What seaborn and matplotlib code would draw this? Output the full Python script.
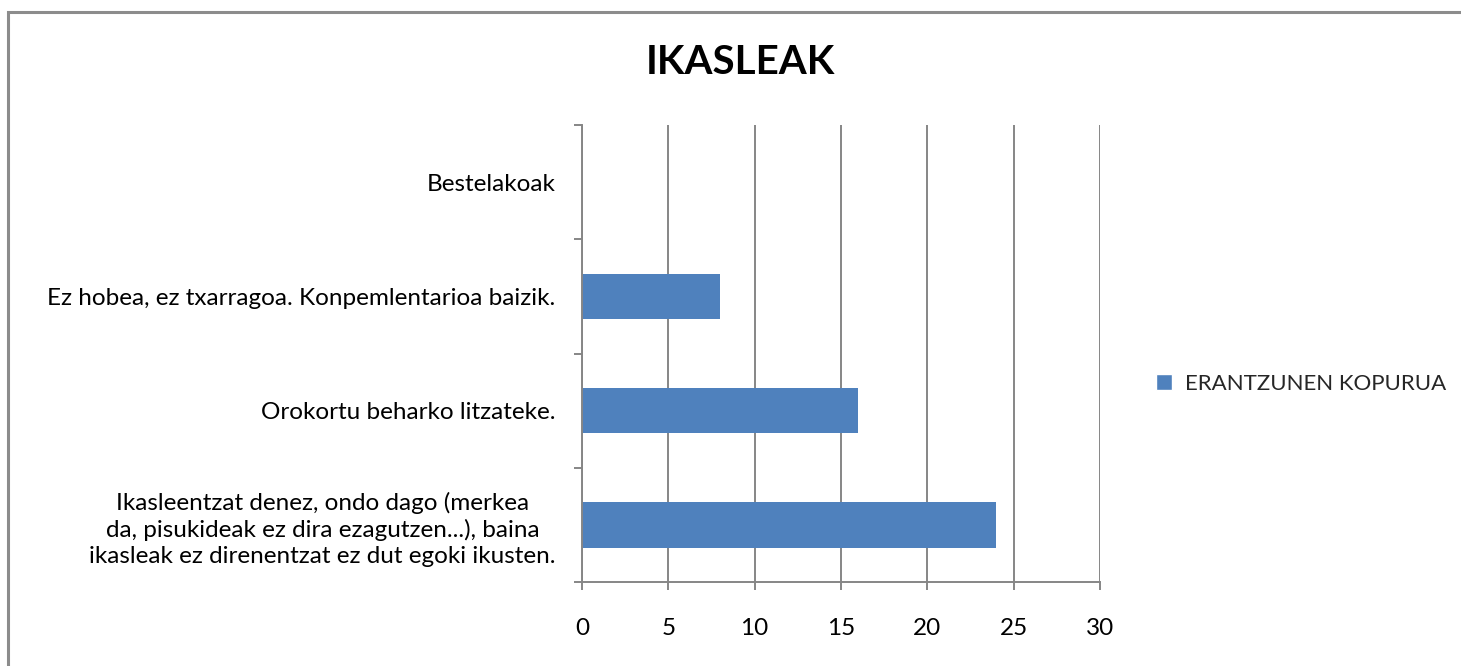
import matplotlib
matplotlib.use("Agg")
import matplotlib.pyplot as plt
import seaborn as sns
import pandas as pd
from matplotlib.patches import Rectangle, Patch

# --- Data ---
categories = [
    "Bestelakoak",
    "Ez hobea, ez txarragoa. Konpemlentarioa baizik.",
    "Orokortu beharko litzateke.",
    "Ikasleentzat denez, ondo dago (merkea\nda, pisukideak ez dira ezagutzen...), baina\nikasleak ez direnentzat ez dut egoki ikusten.",
]
values = [0, 8, 16, 24]
series_name = "ERANTZUNEN KOPURUA"
x_ticks = [0, 5, 10, 15, 20, 25, 30]

BAR_COLOR = "#4F81BD"
GRID_COLOR = "#868686"
FS = 17.5

def main():
    sns.set_theme(style="white")
    plt.rcParams['font.family'] = ['Lato', 'DejaVu Sans']

    df = pd.DataFrame({"cat": categories, "val": values})

    fig = plt.figure(figsize=(14.61, 6.66), dpi=100)
    ax = fig.add_axes([582 / 1461, 1 - 582 / 666, (1100 - 582) / 1461, (582 - 125) / 666])

    sns.barplot(data=df, y="cat", x="val", orient="h", color=BAR_COLOR,
                width=0.4, saturation=1, linewidth=0, ax=ax, zorder=3)

    ax.set_xlim(0, 30)
    ax.set_ylim(len(categories) - 0.5, -0.5)
    ax.set_xticks(x_ticks)
    ax.set_xticklabels([str(t) for t in x_ticks], fontsize=FS, color="black")
    ax.xaxis.grid(True, color=GRID_COLOR, linewidth=1.4, zorder=0)
    ax.set_axisbelow(True)

    # y ticks at category boundaries, labels at centers
    ax.set_yticks([i - 0.5 for i in range(len(categories) + 1)])
    ax.set_yticklabels([])
    ax.set_yticks(range(len(categories)), minor=True)
    ax.set_yticklabels(categories, minor=True, fontsize=FS, color="black",
                       multialignment="center", linespacing=1.3)
    ax.tick_params(axis="y", which="major", length=6, width=1.4, color=GRID_COLOR,
                   direction="out", left=True)
    ax.tick_params(axis="y", which="minor", length=0, pad=19)
    ax.tick_params(axis="x", length=6, width=1.4, color=GRID_COLOR,
                   direction="out", bottom=True, pad=20)
    ax.set_xlabel("")
    ax.set_ylabel("")

    for side in ["top", "right"]:
        ax.spines[side].set_visible(False)
    for side in ["left", "bottom"]:
        ax.spines[side].set_color(GRID_COLOR)
        ax.spines[side].set_linewidth(1.4)
        ax.spines[side].set_zorder(4)

    fig.text(740 / 1461, 1 - 63 / 666, "IKASLEAK", ha="center", va="center",
             fontsize=29, fontweight="bold", color="black")

    ax.legend(handles=[Patch(facecolor=BAR_COLOR, label=series_name)],
              loc="center left", bbox_to_anchor=(1149 / 1461, 1 - 384 / 666),
              bbox_transform=fig.transFigure, frameon=False, fontsize=16,
              handlelength=0.75, handleheight=0.75, handletextpad=0.55,
              borderaxespad=0, borderpad=0.3)

    # outer chart border
    fig.patches.append(Rectangle((8 / 1461, -0.1), 1.2, 1 - 12 / 666 + 0.1,
                                 transform=fig.transFigure, fill=False,
                                 edgecolor="#8C8C8C", linewidth=2.2, zorder=0))

    fig.savefig("out.png", dpi=100)

if __name__ == "__main__":
    main()
